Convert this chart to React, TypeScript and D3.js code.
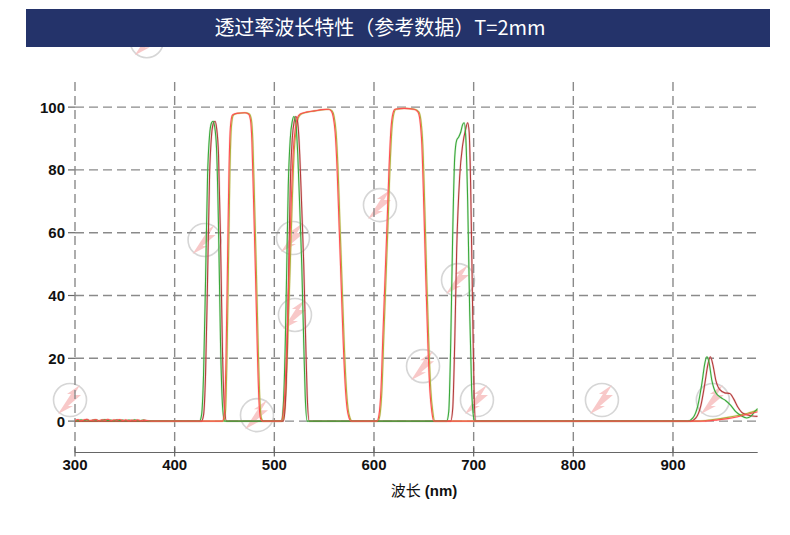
import React from "react";
import * as d3 from "d3";

const titleText = "透过率波长特性（参考数据）T=2mm";
const xTicks = [300, 400, 500, 600, 700, 800, 900];
const yTicks = [0, 20, 40, 60, 80, 100];
const xLabel = "波长";
const xUnit = " (nm)";

// Filter A, sample 1 (green)
const greenSeries: [number, number][] = [
  [300, 0.3], [303, 0.1], [306, 0.4], [309, 0.2], [312, 0.5], [315, 0.1], [318, 0.3], [321, 0.4], [324, 0.1],
  [327, 0.3], [330, 0.5], [333, 0.2], [336, 0.3], [339, 0.1], [342, 0.4], [345, 0.2], [348, 0.3], [351, 0.1],
  [354, 0.3], [357, 0.2], [360, 0.4], [363, 0.1], [366, 0.2], [369, 0.3], [372, 0.1], [376, 0],
  [425, 0], [427, 2], [429, 15], [431, 45], [433, 78], [435, 91], [437, 95], [438.5, 95.5], [440, 94], [442, 87],
  [444, 62], [446, 25], [448, 5], [450, 0],
  [507, 0], [509, 5], [511, 25], [512.5, 50], [514, 75], [516, 90], [518, 95.5], [519.7, 97], [521.5, 95],
  [523.5, 85], [525.5, 68], [527.5, 50], [529.5, 25], [531, 8], [533, 0],
  [673, 0], [675, 3], [677, 25], [679, 60], [681, 84], [683, 89.5], [685, 90.5], [687, 92], [689, 94.5],
  [690.5, 95], [692, 91], [694, 70], [696, 35], [698, 10], [700, 1], [701, 0],
  [915, 0], [920, 1], [925, 5], [929, 12], [932, 18.5], [934, 20.5], [936, 19], [939, 13], [943, 9],
  [948, 7.5], [953, 6.5], [958, 5], [963, 3], [968, 1.8], [974, 1], [978, 1.5], [982, 3], [985, 4],
];

// Filter A, sample 2 (dark red)
const darkRedSeries: [number, number][] = [
  [300, 0], [427, 0], [429, 2], [431, 15], [433, 45], [435, 78], [437, 91], [439, 95], [440.5, 95.5],
  [442, 93.5], [444, 85], [446, 58], [448, 22], [450, 4], [452, 0],
  [509, 0], [511, 5], [513, 25], [514.5, 50], [516, 75], [518, 90], [520, 95.5], [521.7, 97], [523.5, 95],
  [525.5, 85], [527.5, 68], [529.5, 50], [531.5, 25], [533, 8], [535, 0],
  [677, 0], [679, 4], [681, 25], [683, 55], [686, 78], [689, 88], [692, 93], [694, 95], [695.5, 92],
  [697, 75], [699, 35], [700.5, 8], [702, 0],
  [918, 0], [923, 1], [928, 5], [932, 12], [935, 18], [937.5, 20.5], [940, 18], [943, 13], [947, 10],
  [952, 9], [957, 8.8], [961, 7], [965, 4.5], [969, 2.8], [974, 2], [980, 1.6], [985, 1.5],
];

// Filter B, sample 1 (red)
const redSeries: [number, number][] = [
  [300, 0.2], [303, 0.5], [306, 0.1], [309, 0.4], [312, 0.6], [315, 0.2], [318, 0.3], [321, 0.5], [324, 0.1],
  [327, 0.4], [330, 0.3], [333, 0.6], [336, 0.2], [339, 0.4], [342, 0.3], [345, 0.5], [348, 0.2], [351, 0.4],
  [354, 0.1], [357, 0.3], [360, 0.2], [363, 0.4], [366, 0.1], [369, 0.3], [372, 0.2], [376, 0],
  [448, 0], [450, 3], [451.5, 20], [453, 50], [454.5, 80], [456, 94], [458, 97.5], [462, 98], [470, 98.2],
  [474, 97.8], [476, 96], [477.5, 89], [479, 72], [481, 48], [483, 22], [484.5, 7], [486, 1], [488, 0],
  [507, 0], [509, 3], [511, 12], [513, 30], [515, 50], [517, 70], [519, 86], [521, 93], [523, 96.5],
  [526, 97.8], [532, 98.4], [540, 98.8], [548, 99.2], [554, 99.3], [557, 98.8], [559, 97], [561, 92],
  [563, 80], [565, 62], [567, 44], [569, 26], [571, 12], [573, 4], [575, 1], [577, 0],
  [603, 0], [605, 2], [607, 10], [609, 28], [611, 45], [613, 62], [615, 80], [617, 93], [619, 98],
  [621, 99.3], [630, 99.6], [640, 99.3], [644, 98.5], [646, 96], [648, 88], [650, 68], [652, 45],
  [654, 25], [656, 10], [658, 3], [660, 0],
  [930, 0], [945, 0.4], [955, 0.8], [965, 1.4], [975, 2.2], [985, 3],
];

// Filter B, sample 2 (olive)
const oliveSeries: [number, number][] = [
  [300, 0], [449, 0], [451, 3], [452.5, 20], [454, 50], [455.5, 80], [457, 94], [459, 97.5], [463, 98],
  [471, 98.2], [475, 97.8], [477, 96], [478.5, 89], [480, 72], [482, 48], [484, 22], [485.5, 7], [487, 1], [489, 0],
  [508, 0], [510, 3], [512, 12], [514, 30], [516, 50], [518, 70], [520, 86], [522, 93], [524, 96.5],
  [527, 97.8], [533, 98.4], [541, 98.8], [549, 99.2], [555, 99.3], [558, 98.8], [560, 97], [562, 92],
  [564, 80], [566, 62], [568, 44], [570, 26], [572, 12], [574, 4], [576, 1], [578, 0],
  [604, 0], [606, 2], [608, 10], [610, 28], [612, 45], [614, 62], [616, 80], [618, 93], [620, 98],
  [622, 99.3], [631, 99.6], [641, 99.3], [645, 98.5], [647, 96], [649, 88], [651, 68], [653, 45],
  [655, 25], [657, 10], [659, 3], [661, 0],
  [925, 0], [940, 0.5], [955, 1.2], [965, 1.8], [975, 2.5], [985, 3.5],
];

// watermark logo positions in data units (nm, %)
const watermarks: [number, number][] = [
  [372, 121], [430, 57.7], [518.7, 58.3], [606, 68.8], [520.7, 33.8], [684.3, 44.9], [649.2, 17.5],
  [482.6, 1.9], [295, 6.7], [703.3, 6.7], [828.7, 6.7], [940, 6.7],
];

const W = 790;
const H = 535;
const M = { left: 75, right: 757.7, top: 82, bottom: 452.5 };

export default function App() {
  const x = d3.scaleLinear().domain([300, 985]).range([M.left, M.right]);
  const y = d3.scaleLinear().domain([-10, 108]).range([M.bottom, M.top]);
  const line = d3
    .line<[number, number]>()
    .x((d) => x(d[0]))
    .y((d) => y(d[1]))
    .curve(d3.curveMonotoneX);

  const series = [
    { data: oliveSeries, color: "#b0b040", pale: "#dede9a" },
    { data: darkRedSeries, color: "#b43c3c", pale: "#e0a0a0" },
    { data: greenSeries, color: "#3aa83a", pale: "#a8dca8" },
    { data: redSeries, color: "#ff5050", pale: "#ffb4b4" },
  ];

  const gridColor = "#8a8a8a";
  const dash = "9,5";
  const labelFont = "'Liberation Sans', Arial, sans-serif";
  const cjkFont = "'Noto Sans CJK SC', 'Noto Sans', sans-serif";

  return (
    <svg
      width={W}
      height={H}
      style={{ position: "absolute", left: 0, top: 0, background: "#fff" }}
    >
      <defs>
        <clipPath id="plotClip">
          <rect x={M.left} y={M.top} width={M.right - M.left} height={M.bottom - M.top} />
        </clipPath>
      </defs>
      <rect x={0} y={0} width={W} height={H} fill="#fff" />

      {/* watermarks */}
      {watermarks.map(([wx, wy], i) => (
        <g key={i} transform={`translate(${x(wx)},${y(wy)})`} opacity={0.85}>
          <circle r={16.5} fill="none" stroke="#cfcfcf" strokeWidth={1.6} />
          <path
            d="M-12,14 L1,-6 L-3,-6 L10,-15 L4,-5 L11,-5 L-2,6 L3,6 Z"
            fill="#f6b8b8"
            opacity={0.9}
          />
        </g>
      ))}

      {/* title bar */}
      <rect x={26} y={9} width={744} height={38} fill="#24336a" />
      <text
        x={380}
        y={35}
        textAnchor="middle"
        fill="#fff"
        fontSize={20}
        fontFamily={cjkFont}
      >
        {titleText}
      </text>

      {/* grid */}
      {yTicks.map((t) => (
        <g key={"y" + t}>
          <line x1={M.left} x2={M.right} y1={y(t)} y2={y(t)} stroke={gridColor} strokeWidth={1.4} strokeDasharray={dash} />
          <line x1={M.left - 7} x2={M.left} y1={y(t)} y2={y(t)} stroke="#666" strokeWidth={1.2} />
          <text
            x={M.left - 10}
            y={y(t) + 5.5}
            textAnchor="end"
            fontSize={15}
            fontWeight="bold"
            fontFamily={labelFont}
            fill="#111"
          >
            {t}
          </text>
        </g>
      ))}
      {xTicks.map((t) => (
        <g key={"x" + t}>
          <line x1={x(t)} x2={x(t)} y1={M.top} y2={M.bottom} stroke={gridColor} strokeWidth={1.4} strokeDasharray={dash} />
          <line x1={x(t)} x2={x(t)} y1={M.bottom - 5} y2={M.bottom + 4} stroke="#666" strokeWidth={1.2} />
          <text
            x={x(t)}
            y={M.bottom + 17}
            textAnchor="middle"
            fontSize={15}
            fontWeight="bold"
            fontFamily={labelFont}
            fill="#111"
          >
            {t}
          </text>
        </g>
      ))}
      <line x1={M.left} x2={M.right} y1={M.bottom} y2={M.bottom} stroke="#666" strokeWidth={1.2} />

      {/* curves */}
      <g clipPath="url(#plotClip)">
        {series.map((s, i) => (
          <path key={"p" + i} d={line(s.data) || ""} fill="none" stroke={s.pale} strokeWidth={2.2} opacity={0.4} />
        ))}
        {series.map((s, i) => (
          <path key={"l" + i} d={line(s.data) || ""} fill="none" stroke={s.color} strokeWidth={1.1} />
        ))}
      </g>

      {/* x axis title */}
      <text
        x={424}
        y={496}
        textAnchor="middle"
        fontSize={15}
        fontWeight="bold"
        fontFamily={labelFont}
        fill="#111"
      >
        <tspan fontFamily={cjkFont} fontWeight="normal">{xLabel}</tspan>
        <tspan>{xUnit}</tspan>
      </text>
    </svg>
  );
}
